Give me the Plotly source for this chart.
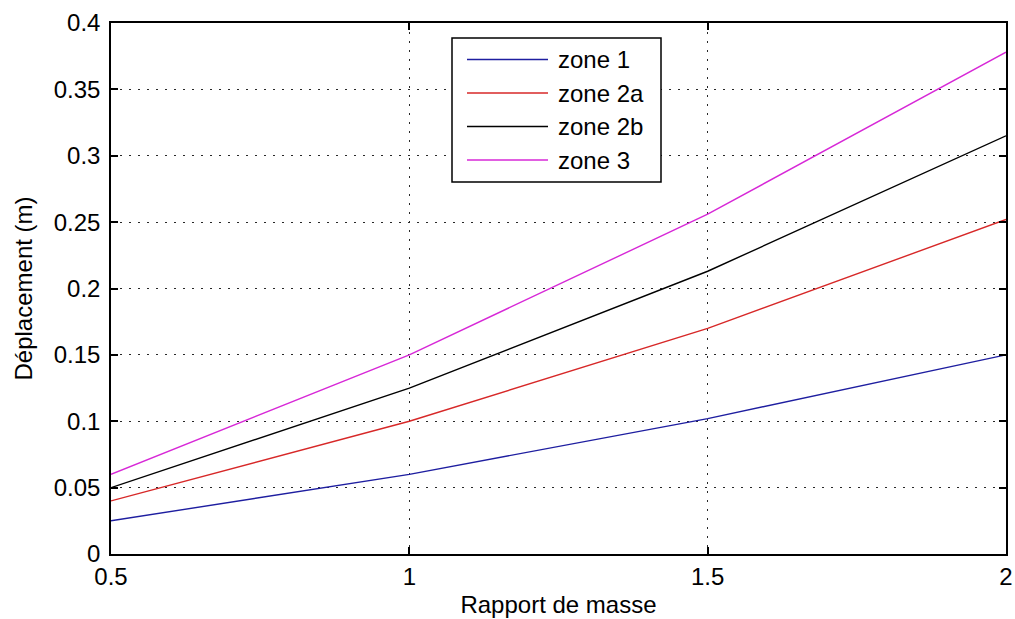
import plotly.graph_objects as go

# Mass ratio (x) and displacement in metres for each zone
rapport_masse = [0.5, 1.0, 1.5, 2.0]
zone_1 = [0.025, 0.060, 0.102, 0.150]
zone_2a = [0.040, 0.100, 0.170, 0.252]
zone_2b = [0.050, 0.125, 0.213, 0.315]
zone_3 = [0.060, 0.150, 0.256, 0.378]

series_names = ["zone 1", "zone 2a", "zone 2b", "zone 3"]
series_values = [zone_1, zone_2a, zone_2b, zone_3]
series_colors = ["rgb(30,30,160)", "rgb(215,40,40)", "rgb(0,0,0)", "rgb(215,40,215)"]

x_ticks = [0.5, 1, 1.5, 2]
x_tick_labels = ["0.5", "1", "1.5", "2"]
y_ticks = [0, 0.05, 0.1, 0.15, 0.2, 0.25, 0.3, 0.35, 0.4]
y_tick_labels = ["0", "0.05", "0.1", "0.15", "0.2", "0.25", "0.3", "0.35", "0.4"]

W, H = 1015, 619
ML, MR, MT, MB = 111, 9, 23, 65
PW, PH = W - ML - MR, H - MT - MB

FONT = "Liberation Sans, Arial, sans-serif"
FS = 24

fig = go.Figure()
for name, vals, col in zip(series_names, series_values, series_colors):
    fig.add_trace(go.Scatter(x=rapport_masse, y=vals, mode="lines", name=name,
                             line=dict(color=col, width=1.4), showlegend=False))

axis_common = dict(
    showline=True, linecolor="black", linewidth=1.5, mirror="ticks",
    ticks="inside", ticklen=7, tickwidth=1.5, tickcolor="black",
    showgrid=True, gridcolor="rgb(40,40,40)", gridwidth=1, griddash="2px,7px",
    zeroline=False, tickfont=dict(family=FONT, size=FS, color="black"),
)

fig.update_xaxes(range=[0.5, 2], tickvals=x_ticks, ticktext=x_tick_labels,
                 title=dict(text="Rapport de masse", font=dict(family=FONT, size=FS, color="black"), standoff=8),
                 automargin=False, **axis_common)
fig.update_yaxes(range=[0, 0.4], tickvals=y_ticks, ticktext=y_tick_labels,
                 title=dict(text="Déplacement (m)", font=dict(family=FONT, size=FS, color="black"), standoff=14),
                 automargin=False, ticklabelstandoff=4, **axis_common)


# Legend box drawn in paper coordinates (pixel offsets converted)
def px_x(p):
    return (p - ML) / PW


def px_y(p):
    return (H - MB - p) / PH


shapes = [dict(type="rect", xref="paper", yref="paper",
               x0=px_x(452), x1=px_x(661), y0=px_y(182), y1=px_y(38),
               line=dict(color="black", width=1.5), fillcolor="white", layer="above")]
annotations = []
row_y0, row_step = 59.5, 33.5
for i, (name, col) in enumerate(zip(series_names, series_colors)):
    ry = row_y0 + i * row_step
    shapes.append(dict(type="line", xref="paper", yref="paper",
                       x0=px_x(467), x1=px_x(548), y0=px_y(ry), y1=px_y(ry),
                       line=dict(color=col, width=1.4), layer="above"))
    annotations.append(dict(xref="paper", yref="paper", x=px_x(556), y=px_y(ry),
                            text=name, showarrow=False, xanchor="left", yanchor="middle",
                            font=dict(family=FONT, size=FS, color="black")))

fig.update_layout(
    width=W, height=H,
    margin=dict(l=ML, r=MR, t=MT, b=MB),
    paper_bgcolor="white", plot_bgcolor="white",
    shapes=shapes, annotations=annotations,
    showlegend=False,
)

fig.write_html("out.html")
